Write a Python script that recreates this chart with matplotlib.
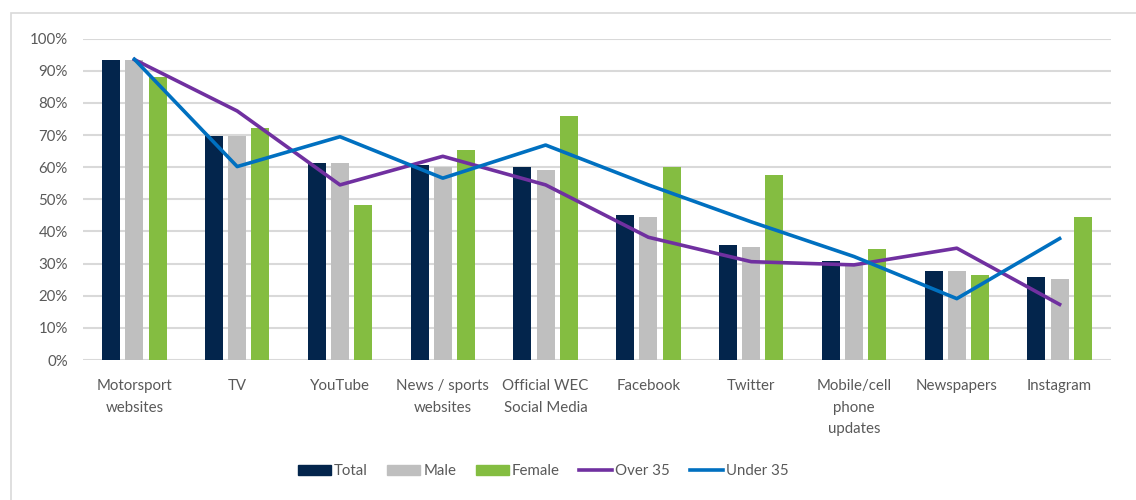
import matplotlib
matplotlib.use("Agg")
import matplotlib.pyplot as plt
import numpy as np
from matplotlib.patches import Rectangle
from matplotlib.lines import Line2D

categories = ["Motorsport\nwebsites", "TV", "YouTube", "News / sports\nwebsites",
              "Official WEC\nSocial Media", "Facebook", "Twitter",
              "Mobile/cell\nphone\nupdates", "Newspapers", "Instagram"]
total = [93.4, 69.8, 61.2, 60.6, 60.0, 45.0, 35.8, 30.7, 27.6, 25.8]
male = [93.4, 69.8, 61.2, 60.0, 59.2, 44.4, 35.2, 30.1, 27.6, 25.2]
female = [88.0, 72.3, 48.1, 65.5, 76.0, 60.0, 57.5, 34.5, 26.4, 44.4]
over35 = [93.5, 77.5, 54.5, 63.4, 54.5, 38.2, 30.6, 29.6, 34.8, 17.3]
under35 = [93.6, 60.2, 69.5, 56.6, 66.9, 54.5, 43.0, 32.2, 19.1, 37.8]
yticks = list(range(0, 101, 10))

c_total = "#03254C"
c_male = "#BFBFBF"
c_female = "#84BD41"
c_over = "#7030A0"
c_under = "#0070C0"
txt = "#595959"

plt.rcParams['font.family'] = ['Lato', 'DejaVu Sans']

fig = plt.figure(figsize=(11.36, 5.0), dpi=100)
W, H = 1136, 500
ax = fig.add_axes([83 / W, 1 - 360 / H, (1111 - 83) / W, (360 - 38.7) / H])

# outer chart border
fig.patches.append(Rectangle((11 / W, -0.1), 1.2, (500 - 13) / H + 0.1,
                             transform=fig.transFigure, fill=False,
                             edgecolor="#D9D9D9", linewidth=1.2))

x = np.arange(len(categories))
bw = 0.175
off = 0.225
ax.bar(x - off, total, bw, color=c_total, zorder=2)
ax.bar(x, male, bw, color=c_male, zorder=2)
ax.bar(x + off, female, bw, color=c_female, zorder=2)
ax.plot(x, over35, color=c_over, lw=2.6, zorder=3, solid_joinstyle="round")
ax.plot(x, under35, color=c_under, lw=2.6, zorder=4, solid_joinstyle="round")

ax.set_xlim(-0.5, len(categories) - 0.5)
ax.set_ylim(0, 100)
ax.set_yticks(yticks)
ax.set_yticklabels([f"{v}%" for v in yticks], color=txt, fontsize=10.8)
ax.set_xticks(x)
ax.set_xticklabels(categories, color=txt, fontsize=10.8, linespacing=1.65, va="top")
ax.tick_params(axis='x', length=0, pad=14)
ax.tick_params(axis='y', length=0, pad=11)
for s in ax.spines.values():
    s.set_visible(False)
ax.grid(axis="y", color="#D9D9D9", lw=1.5, zorder=0)
ax.set_axisbelow(True)

handles = [Rectangle((0, 0), 1, 1, color=c_total), Rectangle((0, 0), 1, 1, color=c_male),
           Rectangle((0, 0), 1, 1, color=c_female),
           Line2D([], [], color=c_over, lw=2.6), Line2D([], [], color=c_under, lw=2.6)]
labels = ["Total", "Male", "Female", "Over 35", "Under 35"]
leg = fig.legend(handles, labels, loc="center", bbox_to_anchor=(543 / W, 1 - 471 / H),
                 ncol=5, frameon=False, fontsize=10.8, handlelength=2.2,
                 handleheight=0.65, handletextpad=0.2, columnspacing=1.3)
for t in leg.get_texts():
    t.set_color(txt)

fig.savefig("out.png", dpi=100)
